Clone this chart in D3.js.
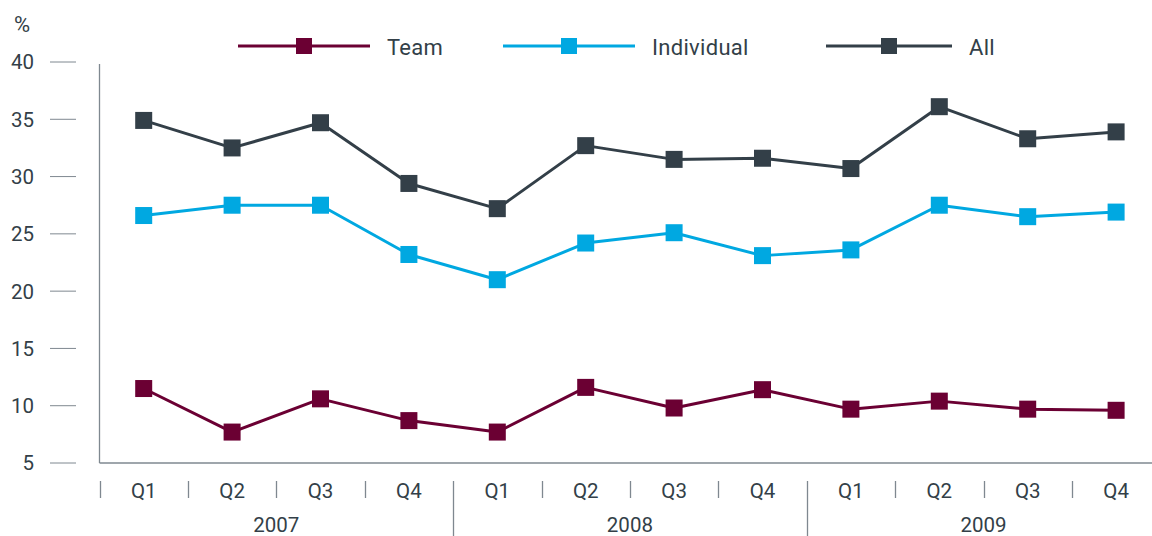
<!DOCTYPE html>
<html><head><meta charset="utf-8">
<script src="https://cdn.jsdelivr.net/npm/d3@7"></script>
<style>body{margin:0;background:#fff}svg{display:block}text{font-family:Roboto,"Noto Sans",sans-serif;fill:#333f48}</style>
</head><body><svg id="c" width="1152" height="536"></svg>
<script>
const quarters = ["Q1","Q2","Q3","Q4","Q1","Q2","Q3","Q4","Q1","Q2","Q3","Q4"];
const years = ["2007","2008","2009"];
const yTicks = [5,10,15,20,25,30,35,40];
const seriesNames = ["Team","Individual","All"];
const seriesColors = ["#6b0033","#00a8e1","#333f48"];
const team = [11.5,7.7,10.6,8.7,7.7,11.6,9.8,11.4,9.7,10.4,9.7,9.6];
const individual = [26.6,27.5,27.5,23.2,21.0,24.2,25.1,23.1,23.6,27.5,26.5,26.9];
const all = [34.9,32.5,34.7,29.4,27.2,32.7,31.5,31.6,30.7,36.1,33.3,33.9];
const seriesValues = [team, individual, all];

const svg = d3.select("#c");
const x0 = 99.5, bw = 88.4;
const idx = d3.range(quarters.length);
const x = d3.scaleBand().domain(idx).range([x0, x0 + bw*quarters.length]).padding(0);
const y = d3.scaleLinear().domain([5,40]).range([463,62]);
const axisCol = "#7f8890";

// y ticks
const yg = svg.append("g");
yg.selectAll("line").data(yTicks).join("line")
  .attr("x1",50).attr("x2",76).attr("y1",d=>y(d)).attr("y2",d=>y(d))
  .attr("stroke",axisCol).attr("stroke-width",1);
yg.selectAll("text").data(yTicks).join("text")
  .attr("x",34).attr("y",d=>y(d)).attr("dy","0.36em").attr("text-anchor","end")
  .attr("font-size",20.5).text(d=>d);
svg.append("text").attr("x",14).attr("y",32).attr("font-size",22).text("%");

// axes lines
svg.append("line").attr("x1",x0).attr("x2",x0).attr("y1",y(40)+2).attr("y2",y(5)).attr("stroke",axisCol).attr("stroke-width",1.3);
svg.append("line").attr("x1",x0).attr("x2",1152).attr("y1",y(5)).attr("y2",y(5)).attr("stroke",axisCol).attr("stroke-width",1.3);

// x category separators
const xg = svg.append("g");
xg.selectAll("line").data(idx).join("line")
  .attr("x1",d=>Math.round(x(d))+0.5).attr("x2",d=>Math.round(x(d))+0.5)
  .attr("y1",481).attr("y2",d=>d%4===0 && d>0 ? 536 : 498)
  .attr("stroke",axisCol).attr("stroke-width",1.3);
xg.selectAll("text").data(idx).join("text")
  .attr("x",d=>x(d)+bw/2).attr("y",498).attr("text-anchor","middle")
  .attr("font-size",20.5).text(d=>quarters[d]);
svg.append("g").selectAll("text").data(years).join("text")
  .attr("x",(d,i)=>x(i*4)+bw*2).attr("y",532).attr("text-anchor","middle")
  .attr("font-size",20.5).text(d=>d);

// series
const line = d3.line().x((d,i)=>x(i)+bw/2).y(d=>y(d));
seriesValues.forEach((vals,s)=>{
  const g = svg.append("g");
  g.append("path").datum(vals).attr("d",line).attr("fill","none")
    .attr("stroke",seriesColors[s]).attr("stroke-width",3).attr("stroke-linejoin","round");
  g.selectAll("rect").data(vals).join("rect")
    .attr("x",(d,i)=>x(i)+bw/2-8.5).attr("y",d=>y(d)-8.5).attr("width",17).attr("height",17)
    .attr("fill",seriesColors[s]);
});

// legend
const legX = [238, 503, 826];
const legW = [132, 132, 126];
const legY = 46;
seriesNames.forEach((n,s)=>{
  const g = svg.append("g");
  g.append("line").attr("x1",legX[s]).attr("x2",legX[s]+legW[s]).attr("y1",legY).attr("y2",legY)
    .attr("stroke",seriesColors[s]).attr("stroke-width",3);
  g.append("rect").attr("x",legX[s]+legW[s]/2-8).attr("y",legY-8).attr("width",16).attr("height",16).attr("fill",seriesColors[s]);
  g.append("text").attr("x",legX[s]+legW[s]+17).attr("y",55).attr("font-size",22).attr("letter-spacing",0.3).text(n);
});
</script></body></html>
